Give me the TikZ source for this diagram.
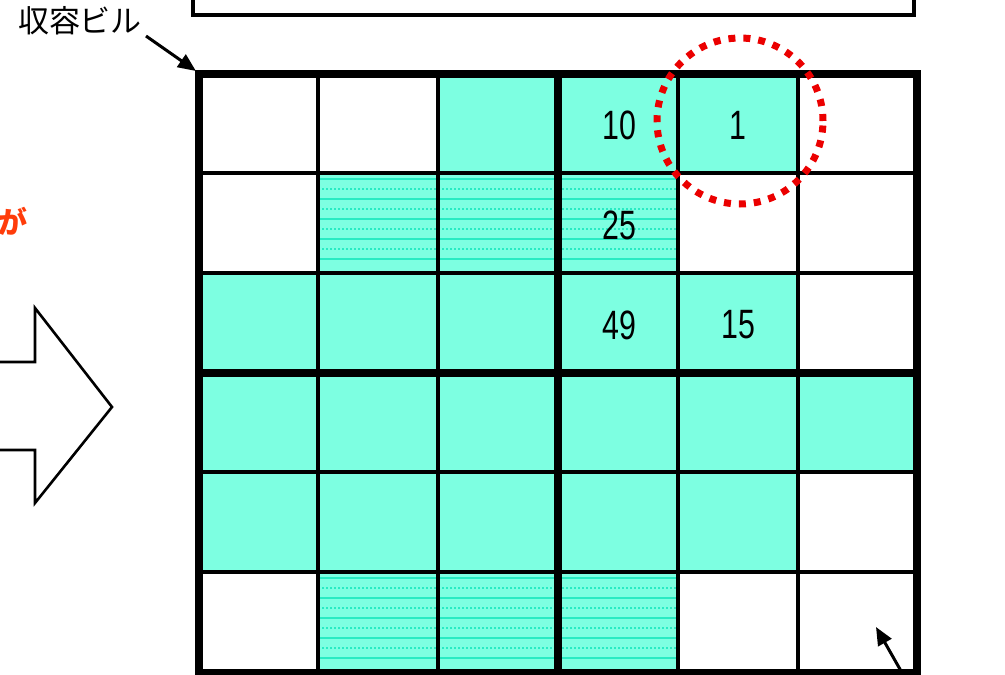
\documentclass[tikz,border=0pt]{standalone}
\usepackage{fontspec}
\usetikzlibrary{arrows.meta}
\newfontfamily\cjk{Noto Sans CJK JP}
\newfontfamily\numf[FakeStretch=0.74]{Liberation Sans}
\definecolor{cellcyan}{RGB}{125,255,225}
\definecolor{hatchline}{RGB}{40,235,195}
\definecolor{orangered}{RGB}{255,60,10}
\definecolor{circred}{RGB}{235,0,0}
\tikzset{
  thinline/.style={line width=3.2pt, black},
  thickline/.style={line width=8pt, black},
  num/.style={font=\numf\fontsize{41}{41}\selectfont, inner sep=0pt},
  pointer/.style={line width=3pt, -{Triangle[length=18pt,width=15pt]}},
  hatch/.style={line width=1.1pt, hatchline},
  hatchdot/.style={line width=1.1pt, hatchline, dash pattern=on 2pt off 2pt},
}
\begin{document}
\begin{tikzpicture}[x=1pt,y=-1pt]
\useasboundingbox (0,0) rectangle (1005,675);
% top rectangle (partly visible)
\draw[line width=3.5pt] (193,-10) -- (193,15) -- (914,15) -- (914,-10);
\def\xs{{199,318,438,558,678,798,917}}
\def\ys{{74,173,273,373,472,572,673}}
\foreach \c/\r in {2/0,3/0,4/0, 1/1,2/1,3/1, 0/2,1/2,2/2,3/2,4/2, 0/3,1/3,2/3,3/3,4/3,5/3, 0/4,1/4,2/4,3/4,4/4, 1/5,2/5,3/5}{
  \pgfmathsetmacro\xa{\xs[\c]}
  \pgfmathsetmacro\xb{\xs[\c+1]}
  \pgfmathsetmacro\ya{\ys[\r]}
  \pgfmathsetmacro\yb{\ys[\r+1]}
  \fill[cellcyan] (\xa,\ya) rectangle (\xb,\yb);
}
% hatched cells (rows 1 and 5, cols 1-3)
\foreach \ya in {173,572}{
  \foreach \k in {1,3,5,7,9}{
    \pgfmathsetmacro\yy{\ya+10*\k-4}
    \draw[hatch] (318,\yy) -- (678,\yy);
  }
  \foreach \k in {2,4,6,8}{
    \pgfmathsetmacro\yy{\ya+10*\k-4}
    \draw[hatchdot] (318,\yy) -- (678,\yy);
  }
}
% thin grid lines
\foreach \x in {318,438,678,798} \draw[thinline] (\x,74) -- (\x,673);
\foreach \y in {173,273,472,572} \draw[thinline] (199,\y) -- (917,\y);
% thick lines
\draw[thickline] (558,74) -- (558,673);
\draw[thickline] (199,373) -- (917,373);
\draw[thickline] (199,74) rectangle (917,673);
\coordinate (gridcorner) at (196,71);
% numbers
\node[num] (n10) at (619,125) {10};
\node[num] (n1) at (738,125) {1};
\node[num] (n25) at (619,225) {25};
\node[num] (n49) at (619,325) {49};
\node[num] (n15) at (738,325) {15};
% dotted red circle
\node[draw=circred, line width=7pt, dash pattern=on 7pt off 8pt, circle, minimum size=166pt] (ring) at (740,121) {};
% label
\node[font=\cjk\fontsize{31}{31}\selectfont, inner sep=0pt] (label) at (80,21) {収容ビル};
\coordinate (labelstart) at (146,36);
\draw[pointer] (labelstart) -- (gridcorner);
% orange text (cut at the left edge, as in the reference)
\node[font=\cjk\bfseries\fontsize{30}{30}\selectfont, text=orangered, inner sep=0pt, anchor=east] (ga) at (28,221) {が};
% big outline arrow
\draw[line width=2.6pt, line join=miter] (-5,362) -- (35,362) -- (35,308) -- (112,407) -- (35,503) -- (35,450) -- (-5,450);
% bottom right pointer
\coordinate (brstart) at (905,678);
\coordinate (brend) at (876,627);
\draw[pointer] (brstart) -- (brend);
\end{tikzpicture}
\end{document}
